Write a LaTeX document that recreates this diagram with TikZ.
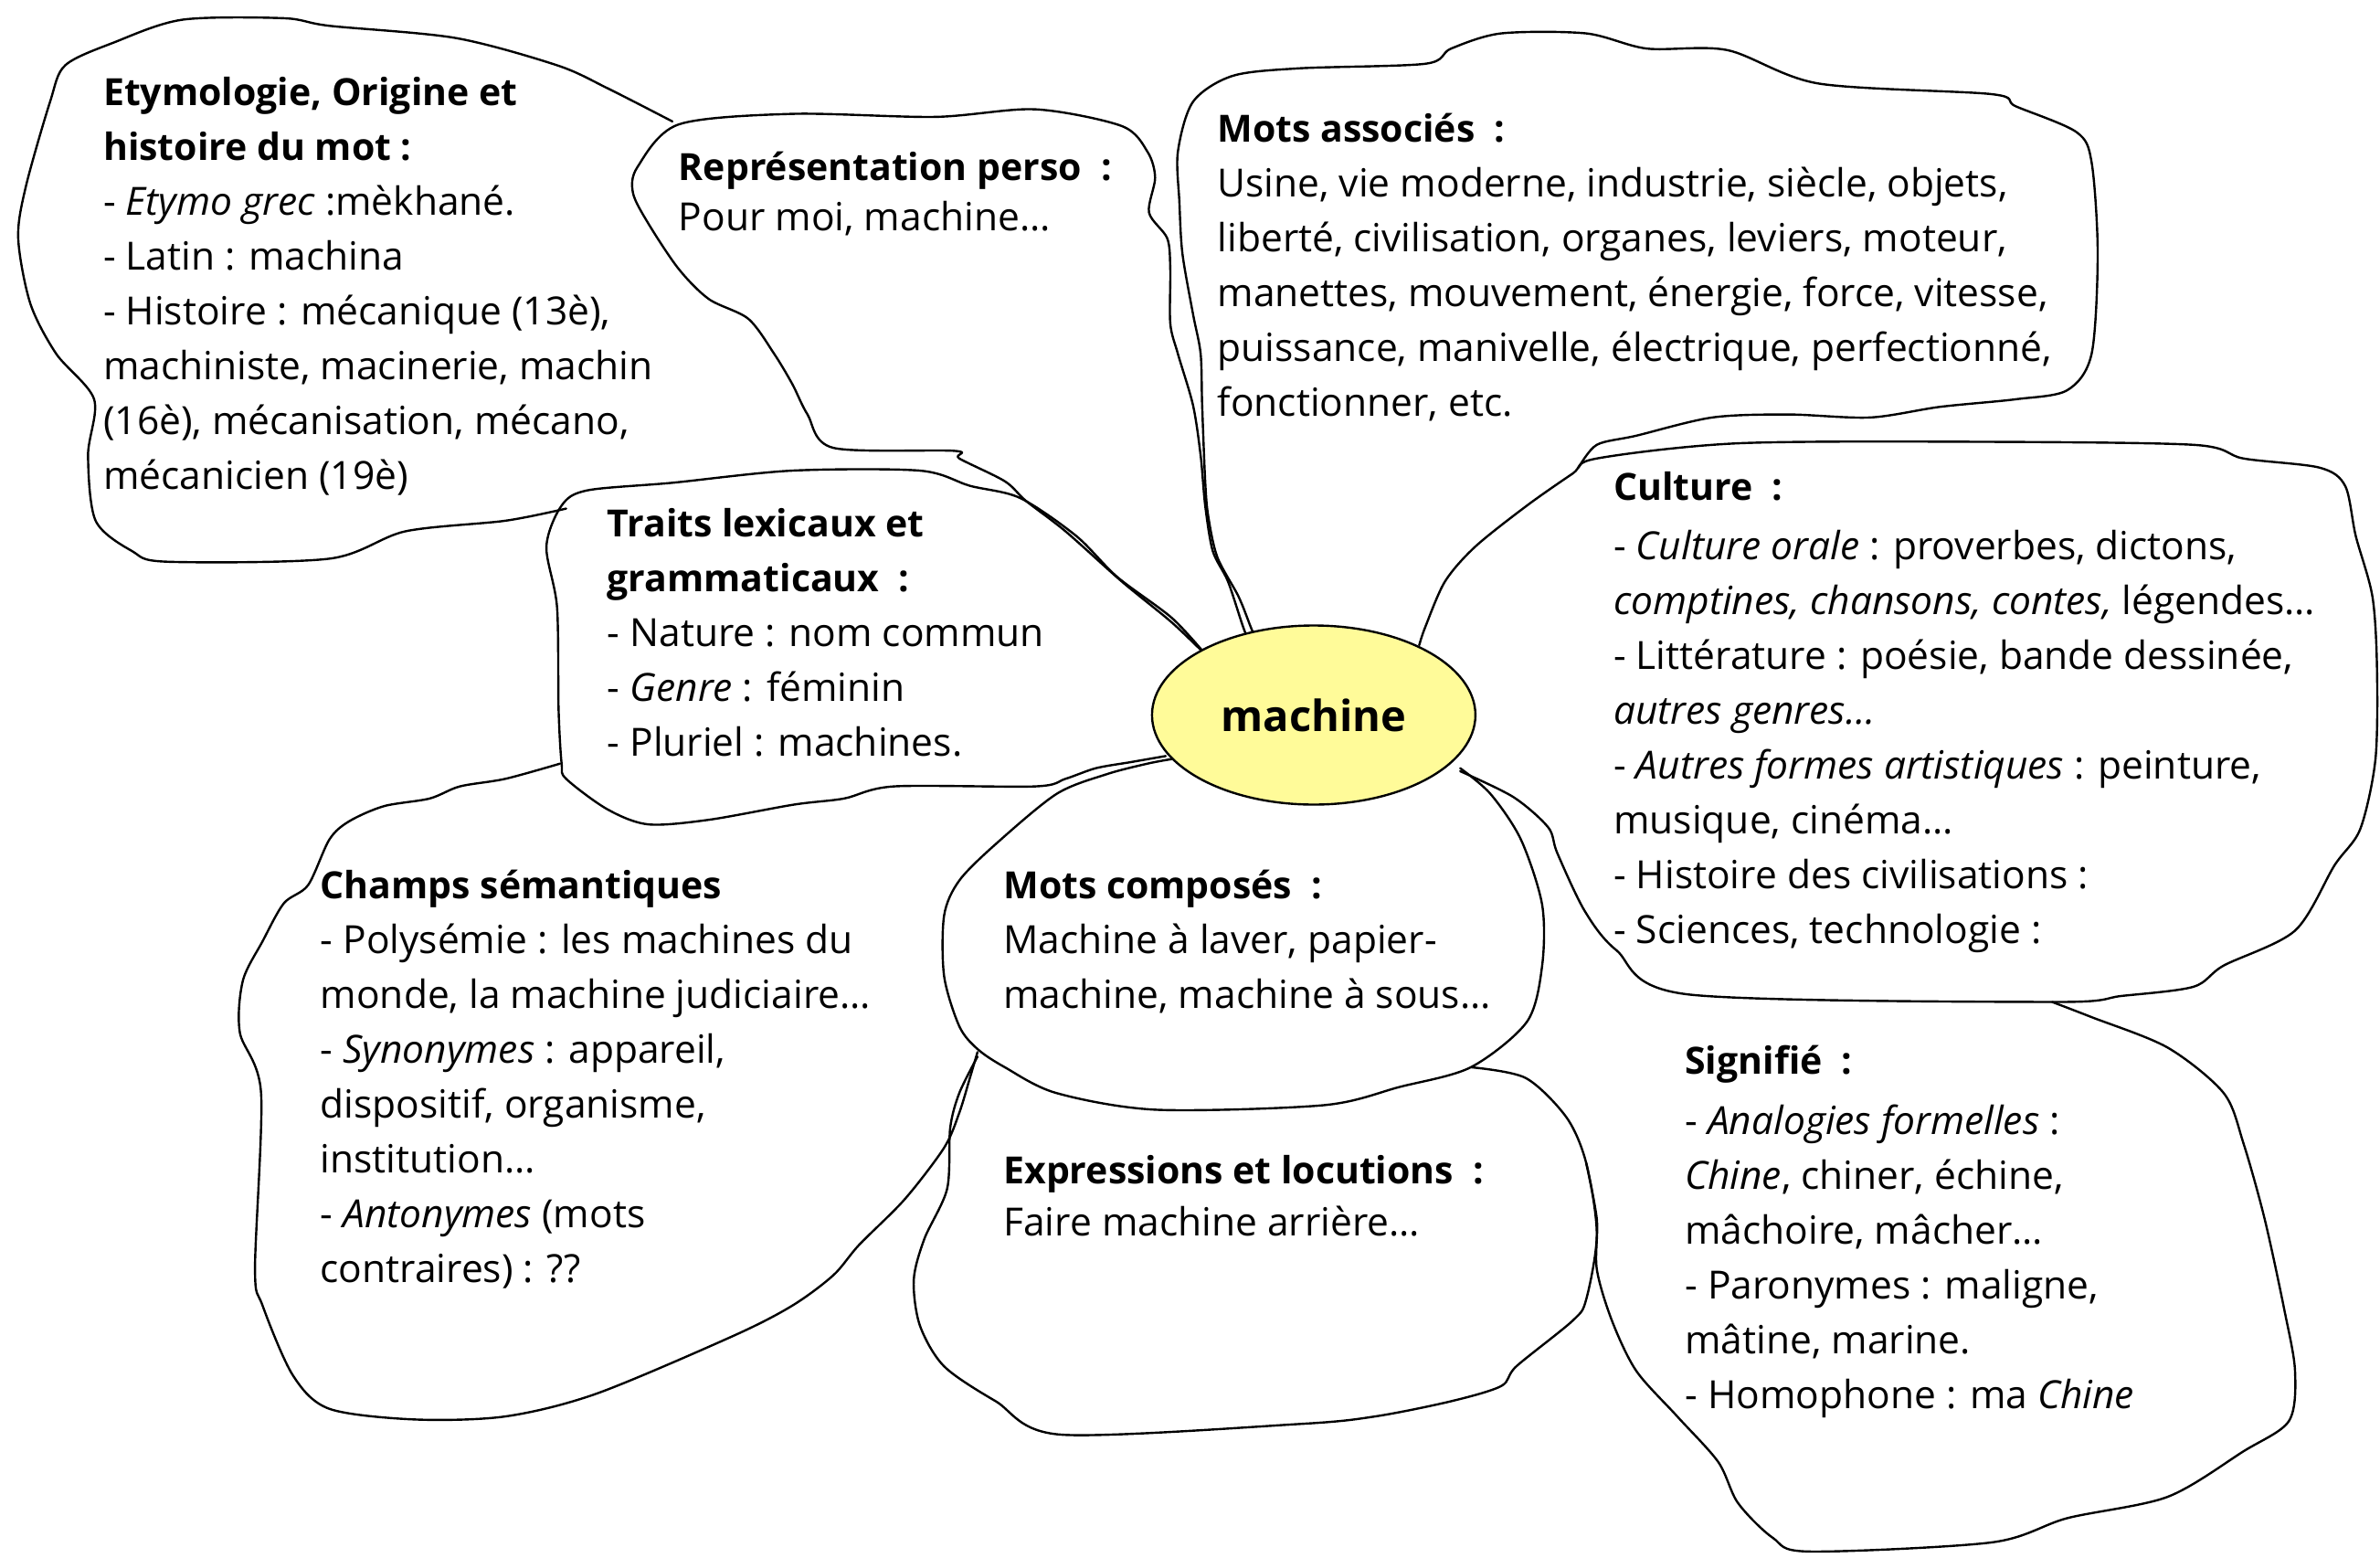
\documentclass[tikz,border=0pt]{standalone}
\usepackage{fontspec}
\setmainfont{Open Sans}
\usetikzlibrary{shapes.geometric}
\definecolor{centrefill}{RGB}{255,251,153}
\newcommand\headtxt[1]{{\fontsize{41}{60}\selectfont\bfseries #1}}
\begin{document}
\begin{tikzpicture}[x=1.6614pt,y=-1.6614pt,
  outline/.style={line width=2.4pt, line join=round, line cap=round},
  blocktext/.style={anchor=north west, inner sep=0pt, align=left, font=\fontsize{42.5}{60}\selectfont},
  centre/.style={ellipse, draw, line width=2.4pt, fill=centrefill, minimum width=354pt, minimum height=196pt, inner sep=0pt, font=\fontsize{47}{50}\selectfont\bfseries}
]
\useasboundingbox (0,0) rectangle (1568,1026);

% Etymologie
\draw[outline] plot[smooth, tension=0.5] coordinates {(443,80) (400,58) (367,43) (300,25) (217,17) (187,12) (120,13) (75,28) (43,43) (33,67) (17,123) (12,157) (20,200) (37,233) (62,263) (58,300) (63,343) (87,363) (110,370) (217,368) (267,350) (333,343) (373,335)};
% Representation
\draw[outline] plot[smooth, tension=0.5] coordinates {(795,432) (772,410) (739,383) (702,350) (676,330) (662,317) (632,302) (629,297) (549,295) (532,273) (522,253) (510,233) (493,210) (467,197) (447,177) (427,147) (417,127) (420,110) (447,82) (522,75) (616,77) (682,72) (739,83) (756,100) (761,117) (757,140) (769,157) (771,177) (771,213) (776,233) (786,267) (791,300) (794,333) (799,363) (809,383) (819,413) (825,428)};
% Mots associes
\draw[outline] plot[smooth, tension=0.5] coordinates {(830,428) (824,413) (816,393) (802,367) (796,340) (794,317) (792,267) (791,233) (786,207) (779,167) (777,133) (776,100) (786,67) (812,50) (856,45) (939,42) (956,32) (989,22) (1045,22) (1085,32) (1138,33) (1198,55) (1312,62) (1328,70) (1368,87) (1378,107) (1382,167) (1378,233) (1362,257) (1328,263) (1278,268) (1232,275) (1178,273) (1128,275) (1078,287) (1052,293) (1040,308)};
% Culture
\draw[outline] plot[smooth, tension=0.5] coordinates {(935,425) (939,413) (952,383) (972,360) (1006,333) (1036,312) (1052,302) (1145,292) (1300,291) (1445,293) (1478,302) (1528,308) (1545,320) (1552,353) (1563,393) (1566,440) (1565,500) (1555,546) (1538,570) (1512,613) (1465,636) (1445,650) (1398,656) (1352,660) (1112,655) (1065,626) (1044,600) (1026,562) (1020,545) (997,525) (962,508)};
% Traits
\draw[outline] plot[smooth, tension=0.5] coordinates {(795,432) (772,407) (736,380) (709,353) (672,328) (639,320) (606,310) (522,310) (443,318) (387,323) (370,333) (360,360) (367,400) (368,467) (370,503) (373,513) (400,533) (427,543) (467,540) (523,530) (556,526) (589,518) (682,518) (702,513) (722,506) (745,502) (768,498)};
% Champs semantiques
\draw[outline] plot[smooth, tension=0.5] coordinates {(369,503) (333,513) (303,518) (283,526) (253,531) (230,541) (217,553) (203,583) (187,595) (173,620) (160,646) (158,680) (172,720) (168,836) (173,860) (193,906) (217,928) (273,935) (333,933) (393,918) (483,880) (522,860) (549,840) (566,820) (596,790) (622,756) (632,733) (639,710) (644,693)};
% Mots composes
\draw[outline] plot[smooth, tension=0.5] coordinates {(772,500) (756,503) (729,510) (696,523) (656,556) (632,580) (622,603) (622,643) (632,676) (644,691) (662,703) (696,720) (762,731) (872,728) (922,716) (969,703) (1006,673) (1016,636) (1016,596) (1002,553) (982,523) (962,506)};
% Expressions
\draw[outline] plot[smooth, tension=0.5] coordinates {(644,696) (632,720) (626,743) (624,783) (609,816) (602,843) (606,873) (622,900) (656,923) (699,945) (856,938) (906,933) (956,923) (989,913) (999,900) (1036,870) (1045,856) (1052,813) (1045,766) (1032,736) (1005,710) (969,703)};
% Signifie
\draw[outline] plot[smooth, tension=0.5] coordinates {(1045,766) (1052,803) (1052,836) (1062,870) (1078,903) (1105,933) (1132,963) (1145,990) (1168,1013) (1192,1022) (1312,1016) (1362,1000) (1428,986) (1478,956) (1508,936) (1512,903) (1505,863) (1492,803) (1478,753) (1465,720) (1428,690) (1378,670) (1352,660)};

% centre
\node[centre] (machine) at (865.5,471) {machine};

% texts
\node[blocktext] (etym) at (68,44.3) {\strut\headtxt{Etymologie, Origine et}\\
\headtxt{histoire du mot :}\\
- \textit{Etymo grec} :mèkhané.\\
- Latin : machina\\
- Histoire : mécanique (13è),\\
machiniste, macinerie, machin\\
(16è), mécanisation, mécano,\\
mécanicien (19è)};

\node[blocktext] (repr) at (447,93.3) {\strut\headtxt{Représentation perso~~:}\\[-5pt]
Pour moi, machine…};

\node[blocktext] (assoc) at (802,68.3) {\strut\headtxt{Mots associés~~:}\\
Usine, vie moderne, industrie, siècle, objets,\\
liberté, civilisation, organes, leviers, moteur,\\
manettes, mouvement, énergie, force, vitesse,\\
puissance, manivelle, électrique, perfectionné,\\
fonctionner, etc.};

\node[blocktext] (cult) at (1063,304.3) {\strut\headtxt{Culture~~:}\\[5pt]
- \textit{Culture orale} : proverbes, dictons,\\
\textit{comptines, chansons, contes,} légendes…\\
- Littérature : poésie, bande dessinée,\\
\textit{autres genres…}\\
- \textit{Autres formes artistiques} : peinture,\\
musique, cinéma…\\
- Histoire des civilisations :\\
- Sciences, technologie :};

\node[blocktext] (traits) at (400,328.3) {\strut\headtxt{Traits lexicaux et}\\
\headtxt{grammaticaux~~:}\\
- Nature : nom commun\\
- \textit{Genre} : féminin\\
- Pluriel : machines.};

\node[blocktext] (champs) at (211,566.3) {\strut\headtxt{Champs sémantiques}\\
- Polysémie : les machines du\\
monde, la machine judiciaire…\\
- \textit{Synonymes} : appareil,\\
dispositif, organisme,\\
institution…\\
- \textit{Antonymes} (mots\\
contraires) : ??};

\node[blocktext] (compos) at (661,566.3) {\strut\headtxt{Mots composés~~:}\\
Machine à laver, papier-\\
machine, machine à sous…};

\node[blocktext] (expr) at (661,754.3) {\strut\headtxt{Expressions et locutions~~:}\\[-3pt]
Faire machine arrière…};

\node[blocktext] (signif) at (1110,682.3) {\strut\headtxt{Signifié~~:}\\[6pt]
- \textit{Analogies formelles} :\\
\textit{Chine}, chiner, échine,\\
mâchoire, mâcher…\\
- Paronymes : maligne,\\
mâtine, marine.\\
- Homophone : ma \textit{Chine}};
\end{tikzpicture}
\end{document}
